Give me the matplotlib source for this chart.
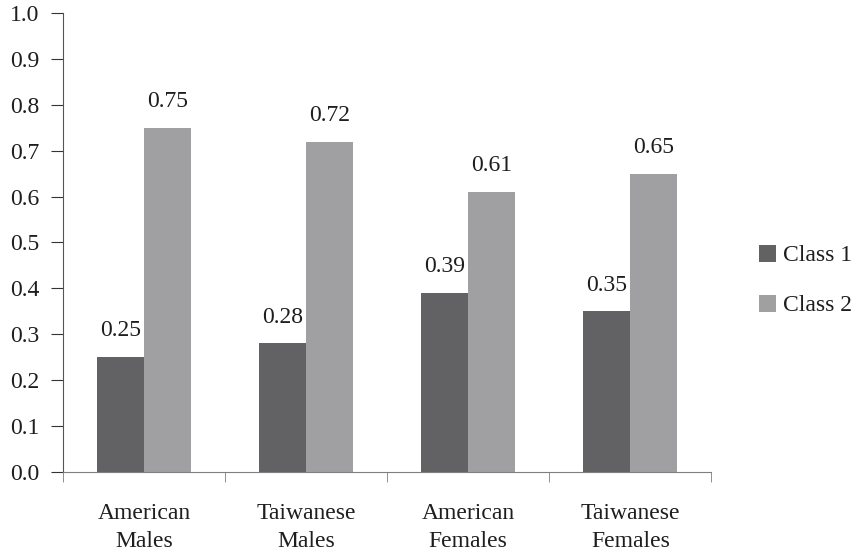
import numpy as np
import matplotlib.pyplot as plt

groups = ["American\nMales", "Taiwanese\nMales", "American\nFemales", "Taiwanese\nFemales"]
class1 = [0.25, 0.28, 0.39, 0.35]
class2 = [0.75, 0.72, 0.61, 0.65]
labels1 = ["0.25", "0.28", "0.39", "0.35"]
labels2 = ["0.75", "0.72", "0.61", "0.65"]

plt.rcParams['font.family'] = ['Liberation Serif', 'DejaVu Serif']
plt.rcParams['font.size'] = 17

fig = plt.figure(figsize=(8.61, 5.53), dpi=100)
ax = fig.add_axes([0.0732, 0.1465, 0.753, 0.830])

x = np.arange(len(groups))
w = 0.29
dark = "#626264"
light = "#a0a0a3"
axis_col = "#7f7f7f"
text_col = "#1e1e1e"

b1 = ax.bar(x - w / 2, class1, w, color=dark, label="Class 1")
b2 = ax.bar(x + w / 2, class2, w, color=light, label="Class 2")

# value labels above the bars
for bars, labs in ((b1, labels1), (b2, labels2)):
    for rect, lab in zip(bars, labs):
        ax.annotate(lab, (rect.get_x() + rect.get_width() / 2, rect.get_height()),
                    xytext=(0, 15), textcoords="offset points",
                    ha="center", va="baseline", color=text_col)

ax.set_xlim(-0.5, len(groups) - 0.5)
ax.set_ylim(0, 1.0)
yt = np.arange(0, 1.01, 0.1)
ax.set_yticks(yt)
ax.set_yticklabels([f"{v:.1f}" for v in yt], color=text_col)

# category labels in the middle, tick marks between groups
ax.set_xticks(x)
ax.set_xticklabels(groups, linespacing=1.45, color=text_col)
ax.tick_params(axis="x", which="major", length=0, pad=22)
ax.set_xticks(np.arange(-0.5, len(groups), 1.0), minor=True)
ax.tick_params(axis="x", which="minor", length=7, direction="out", color=axis_col)
ax.tick_params(axis="y", length=9, direction="out", color="#333333", pad=8)

for s in ("top", "right"):
    ax.spines[s].set_visible(False)
ax.spines["left"].set_color("#555555")
ax.spines["bottom"].set_color(axis_col)

leg = ax.legend(loc="center left", bbox_to_anchor=(1.059, 0.417), frameon=False,
                borderaxespad=0, handlelength=0.72, handleheight=0.72,
                handletextpad=0.3, labelspacing=1.2)
for t in leg.get_texts():
    t.set_color(text_col)

fig.savefig("out.png", dpi=100)
